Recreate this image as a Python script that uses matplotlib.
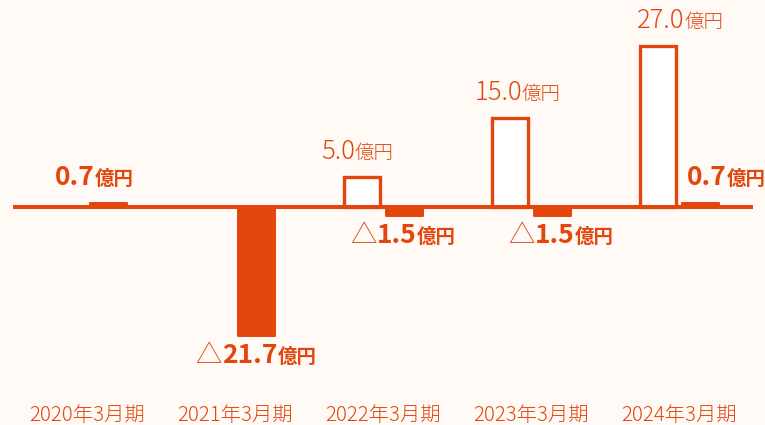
import matplotlib
matplotlib.use("Agg")
import matplotlib.pyplot as plt
from matplotlib.offsetbox import TextArea, HPacker, AnnotationBbox

# data
periods = ["2020年3月期", "2021年3月期", "2022年3月期", "2023年3月期", "2024年3月期"]
plan_values = [None, None, 5.0, 15.0, 27.0]      # outlined bars
actual_values = [0.7, -21.7, -1.5, -1.5, 0.7]    # filled bars
unit = "億円"

# layout (pixels), tuned to the reference
plan_label_dx = [0, 0, -4.5, 7.5, 22.5]
actual_label_dx = [-14, 0, -1, 9, 26]

ORANGE = "#E3450D"
BG = "#FFFAF5"
PX_PER_UNIT = 5.95
PX_PER_SLOT = 148
BAR_OFFSET = 21 / PX_PER_SLOT

plt.rcParams["font.family"] = ["Noto Sans CJK JP", "DejaVu Sans"]

fig = plt.figure(figsize=(7.65, 4.25), dpi=100, facecolor=BG)
ax = fig.add_axes([0, 0, 1, 1])
ax.set_facecolor(BG)
ax.set_xlim(-87 / PX_PER_SLOT, (765 - 87) / PX_PER_SLOT)
ax.set_ylim(-(425 - 207) / PX_PER_UNIT, 207 / PX_PER_UNIT)
ax.axis("off")

ax.axhline(0, xmin=13 / 765, xmax=753 / 765, color=ORANGE, lw=2.9, zorder=3,
           solid_capstyle="butt")


def value_label(x, y, value, dx_px, bold, above):
    neg = value < 0
    num = f"{abs(value):.1f}"
    w = "bold" if bold else "light"
    parts = []
    if neg:
        parts.append(TextArea("△", textprops=dict(color=ORANGE, fontsize=19, fontweight="light")))
    parts.append(TextArea(num, textprops=dict(color=ORANGE, fontsize=19 if bold else 18.5,
                                               fontweight=w)))
    parts.append(TextArea(unit, textprops=dict(color=ORANGE, fontsize=14 if bold else 14,
                                                fontweight=w)))
    box = HPacker(children=parts, align="baseline", pad=0, sep=0)
    dy = 12 if above else -5
    ab = AnnotationBbox(box, (x, y), xybox=(dx_px * 0.72, dy * 0.72),
                        xycoords="data", boxcoords="offset points",
                        box_alignment=(0.5, 0 if above else 1),
                        frameon=False, pad=0)
    ax.add_artist(ab)


for i, period in enumerate(periods):
    p = plan_values[i]
    a = actual_values[i]
    if p is not None:
        ax.bar(i - BAR_OFFSET, p, width=0.243, facecolor="white", edgecolor=ORANGE,
               linewidth=2.4, zorder=2)
        value_label(i - BAR_OFFSET, p, p, plan_label_dx[i], bold=False, above=True)
    ax.bar(i + BAR_OFFSET, a, width=0.25, color=ORANGE, edgecolor=ORANGE,
           linewidth=1.4, joinstyle="round", zorder=2)
    value_label(i + BAR_OFFSET, a, a, actual_label_dx[i], bold=True, above=a > 0)

    ax.text(i, -(421 - 207) / PX_PER_UNIT, period, ha="center", va="baseline",
            fontsize=14.7, fontweight="light", color=ORANGE)

fig.savefig("out.png", dpi=100, facecolor=BG)
